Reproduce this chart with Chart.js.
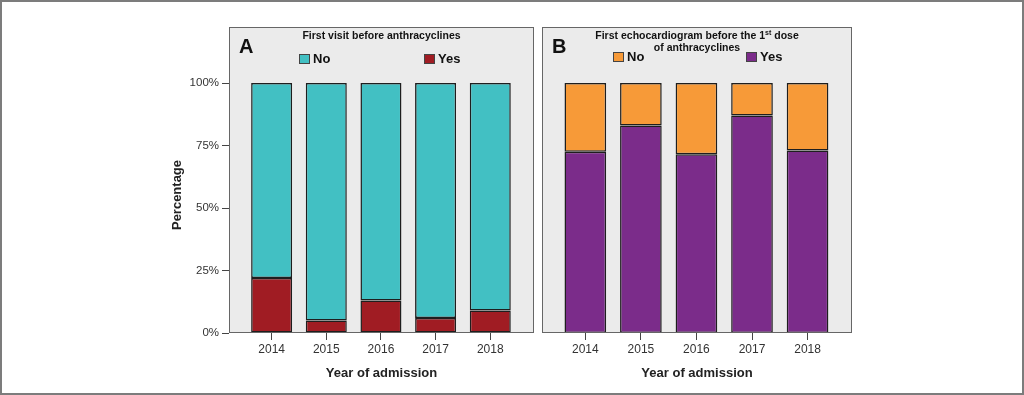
<!DOCTYPE html>
<html>
<head>
<meta charset="utf-8">
<script src="https://cdn.jsdelivr.net/npm/chart.js@4.4.1/dist/chart.umd.min.js"></script>
<style>
  html, body { margin: 0; padding: 0; background: #fff; }
  #frame {
    position: absolute; left: 0; top: 0; width: 1024px; height: 395px;
    box-sizing: border-box; border: 2px solid #7c7c7c;
  }
  canvas { position: absolute; top: 0; }
  #chartA { left: 0; }
  #chartB { left: 537px; }
</style>
</head>
<body>
<div id="frame"></div>
<canvas id="chartA" width="537" height="395"></canvas>
<canvas id="chartB" width="487" height="395"></canvas>
<script>
// data (percent of patients)
const years = [2014, 2015, 2016, 2017, 2018];
const yTicks = [0, 25, 50, 75, 100];

const visitYes = [22, 5, 13, 6, 9];
const visitNo = [78, 95, 87, 94, 91];

const echoYes = [72.5, 83, 71.5, 87, 73];
const echoNo = [27.5, 17, 28.5, 13, 27];

const FONT = '"Liberation Sans", Arial, sans-serif';

const toPoints = (vals) => vals.map((v, i) => ({ x: years[i], y: v }));

// grey panel, frame, panel letter, title and legend drawn inside the plot box
const panelPlugin = {
  id: "panel",
  beforeDraw(chart) {
    const { ctx, chartArea: a } = chart;
    ctx.save();
    ctx.fillStyle = "#ebebeb";
    ctx.fillRect(a.left, a.top, a.right - a.left, a.bottom - a.top);
    ctx.restore();
  },
  afterDatasetsDraw(chart, args, opts) {
    const { ctx, chartArea: a } = chart;
    ctx.save();
    ctx.strokeStyle = "#666";
    ctx.lineWidth = 1;
    ctx.strokeRect(a.left + 0.5, a.top + 0.5, a.right - a.left - 1, a.bottom - a.top - 1);

    // panel letter
    ctx.fillStyle = "#111";
    ctx.font = "bold 20px " + FONT;
    ctx.textBaseline = "alphabetic";
    ctx.textAlign = "left";
    ctx.fillText(opts.letter, a.left + 10, a.top + 26);

    // title lines, with optional superscript parts
    const cx = (a.left + a.right) / 2;
    ctx.textBaseline = "middle";
    opts.title.forEach((line, li) => {
      const y = a.top + 9.5 + li * 11.5;
      const parts = line.map((p) => {
        ctx.font = (p.sup ? "bold 7px " : "bold 10.5px ") + FONT;
        return { ...p, w: ctx.measureText(p.text).width };
      });
      let x = cx - parts.reduce((s, p) => s + p.w, 0) / 2;
      parts.forEach((p) => {
        ctx.font = (p.sup ? "bold 7px " : "bold 10.5px ") + FONT;
        ctx.fillText(p.text, x, p.sup ? y - 3 : y);
        x += p.w;
      });
    });

    // legend: "No" first, "Yes" second
    const items = chart.data.datasets.slice().reverse();
    items.forEach((ds, i) => {
      const x = a.left + opts.legendX[i];
      const y = a.top + opts.legendY;
      ctx.fillStyle = ds.backgroundColor;
      ctx.fillRect(x, y, 11, 10);
      ctx.strokeStyle = "#444";
      ctx.strokeRect(x + 0.5, y + 0.5, 10, 9);
      ctx.fillStyle = "#111";
      ctx.font = "bold 13px " + FONT;
      ctx.fillText(ds.label, x + 14, y + 5.5);
    });

    // y axis title, centred on the reference position
    if (opts.yTitle) {
      ctx.translate(a.left - 52, a.top + 168);
      ctx.rotate(-Math.PI / 2);
      ctx.textAlign = "center";
      ctx.fillStyle = "#222";
      ctx.font = "bold 13px " + FONT;
      ctx.fillText(opts.yTitle, 0, 0);
    }
    ctx.restore();
  },
};

const xScale = {
  type: "linear",
  stacked: true,
  min: 2013.22,
  max: 2018.8,
  offset: false,
  afterBuildTicks: (scale) => {
    scale.ticks = years.map((v) => ({ value: v }));
  },
  afterFit: (scale) => {
    scale.height = 62;
  },
  ticks: {
    callback: (v) => String(v),
    color: "#333",
    padding: 2,
    font: { family: FONT, size: 12 },
  },
  grid: {
    offset: false,
    drawOnChartArea: false,
    drawTicks: true,
    tickLength: 7,
    color: "#444",
  },
  border: { display: false },
  title: {
    display: true,
    text: "Year of admission",
    color: "#222",
    font: { family: FONT, size: 13, weight: "bold" },
    padding: { top: 0, bottom: 14 },
  },
};

const barStyle = {
  borderColor: "#1e1e1e",
  borderWidth: 1.5,
  borderSkipped: false,
  barPercentage: 0.75,
  categoryPercentage: 1,
};

// Panel A
new Chart(document.getElementById("chartA").getContext("2d"), {
  type: "bar",
  data: {
    datasets: [
      { label: "Yes", data: toPoints(visitYes), backgroundColor: "#a01c23", ...barStyle },
      { label: "No", data: toPoints(visitNo), backgroundColor: "#42c0c3", ...barStyle },
    ],
  },
  options: {
    responsive: false,
    animation: false,
    layout: { padding: { left: 160, top: 27, right: 3, bottom: 0 } },
    scales: {
      x: xScale,
      y: {
        stacked: true,
        min: 0,
        max: 122.4,
        afterBuildTicks: (scale) => {
          scale.ticks = yTicks.map((v) => ({ value: v }));
        },
        afterFit: (scale) => {
          scale.width = 69;
        },
        ticks: {
          callback: (v) => v + "%",
          color: "#333",
          padding: 3,
          font: { family: FONT, size: 11.5 },
        },
        grid: {
          drawOnChartArea: false,
          drawTicks: true,
          tickLength: 7,
          color: "#444",
        },
        border: { display: false },
      },
    },
    plugins: {
      legend: { display: false },
      tooltip: { enabled: false },
      panel: {
        letter: "A",
        title: [[{ text: "First visit before anthracyclines" }]],
        legendX: [70, 195],
        legendY: 27,
        yTitle: "Percentage",
      },
    },
  },
  plugins: [panelPlugin],
});

// Panel B
new Chart(document.getElementById("chartB").getContext("2d"), {
  type: "bar",
  data: {
    datasets: [
      { label: "Yes", data: toPoints(echoYes), backgroundColor: "#7b2c8a", ...barStyle },
      { label: "No", data: toPoints(echoNo), backgroundColor: "#f79a38", ...barStyle },
    ],
  },
  options: {
    responsive: false,
    animation: false,
    layout: { padding: { left: 5, top: 27, right: 172, bottom: 0 } },
    scales: {
      x: xScale,
      y: { display: false, stacked: true, min: 0, max: 122.4 },
    },
    plugins: {
      legend: { display: false },
      tooltip: { enabled: false },
      panel: {
        letter: "B",
        title: [
          [
            { text: "First echocardiogram before the 1" },
            { text: "st", sup: true },
            { text: " dose" },
          ],
          [{ text: "of anthracyclines" }],
        ],
        legendX: [71, 204],
        legendY: 25,
      },
    },
  },
  plugins: [panelPlugin],
});
</script>
</body>
</html>
